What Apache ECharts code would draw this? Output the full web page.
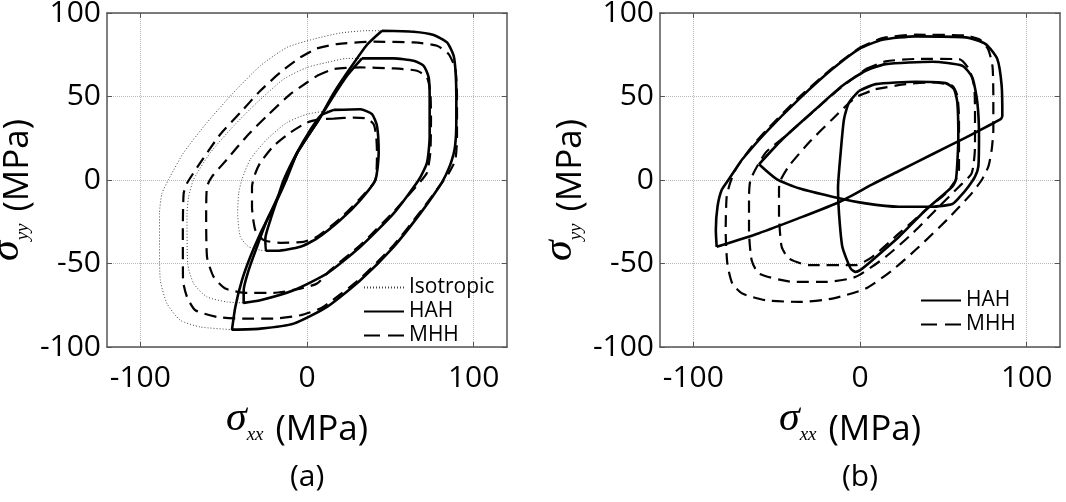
<!DOCTYPE html>
<html lang="en">
<head>
<meta charset="UTF-8">
<title>Yield surfaces: Isotropic / HAH / MHH</title>
<script src="https://cdn.jsdelivr.net/npm/echarts@6/dist/echarts.min.js"></script>
<style>html,body{margin:0;padding:0;background:#fff}</style>
</head>
<body>
<div id="main" style="width:1066px;height:502px"></div>
<script>
// tick values shown on the axes
const xTicks = [-100, 0, 100];
const yTicks = [-100, -50, 0, 50, 100];

// ---- panel (a) : [sigma_xx, sigma_yy] in MPa ----
// isotropic: only the visible (left) arc, the rest lies under the HAH line
const isoA1 = [[45,89.4],[36,89.4],[20,88],[4,84.4],[-12,79.4],[-28,68.4],[-44,52.4],[-60,34.4],[-74,16.4],[-83,0.4],[-87,-8],[-88.5,-20],[-88.5,-40],[-88,-60],[-84,-74],[-76,-84],[-64,-88],[-45,-89.6]];
const isoA2 = [[33,72.8],[24,72.8],[12,70.4],[0,67.4],[-14,60.4],[-30,46.4],[-44,32.4],[-58,16.4],[-68,0.4],[-71,-10],[-72,-20],[-71.6,-50],[-68,-62],[-60,-70],[-48,-73],[-38,-73.6]];
const isoA3 = [[16,42],[12,41.4],[0,39.4],[-12,34.4],[-24,24.4],[-34,12.4],[-39,0.4],[-41,-8],[-41.6,-20],[-40,-34],[-35,-40],[-28,-42],[-24.5,-42.4]];

const hahA1 = [[45,89.4],[64,88.8],[76,86.8],[84,82.4],[88,74.4],[89.2,64],[89.6,50],[89.6,36],[88.8,20],[86.4,10.4],[83,2.4],[79.6,-3.6],[68,-20],[52,-40],[32,-60],[12,-76],[-8,-86],[-28,-89],[-45,-89.6],[-43,-76],[-39,-60],[-34,-46],[-28,-32],[-22,-20],[-17,-9],[-13,0],[-6,16],[7,36],[16,52],[26,67],[36,81],[45,89.4]];
const hahA2 = [[33,72.8],[52,72.8],[64,71.4],[70,68.4],[73,61.4],[73.6,50],[73.6,26],[72,10.4],[67,0],[52,-20],[32,-40],[12,-56],[-8,-66],[-28,-72],[-38,-73.6],[-38,-66],[-35,-54],[-30,-40],[-24,-24],[-17,-10],[-12.5,0],[-6,16],[7,36],[16,50.4],[24,62.4],[33,72.8]];
const hahA3 = [[16,42],[32,42.4],[39,39.4],[42,32.4],[43,16.4],[41,0],[32,-12],[20,-24],[6,-35],[-4,-40],[-18,-42.4],[-24.5,-42.4],[-25,-35],[-22,-24],[-18,-12],[-14,0],[-6,16.4],[2,30],[8,38.4],[16,42]];

const mhhA1 = [[6,78.8],[18,81.4],[40,82.8],[64,82.4],[78,80.4],[85,75.4],[89,66.4],[90,50],[90,26],[89,12],[85,4],[80,-3],[68,-19],[52,-39],[32,-59],[14,-73],[8,-77],[-4,-81],[-20,-83],[-38,-83],[-54,-82],[-67,-78],[-72,-70],[-74.4,-60],[-74.5,-30],[-74,-8],[-72,-2],[-64,10.4],[-52,27.4],[-40,40.4],[-28,53.4],[-16,64.4],[-4,73.4],[6,78.8]];
const mhhA2 = [[6,62.4],[16,66.4],[32,67.4],[52,66.8],[66,65.4],[72,61.4],[74,52.4],[74.4,36.4],[74,16.4],[72,4.4],[68,-1],[52,-19],[32,-39],[14,-54],[6,-62],[-4,-65],[-20,-67.6],[-36,-67.6],[-49,-65],[-56,-58],[-60,-46],[-60.5,-20],[-60,-4],[-57,2],[-48,12.4],[-36,26.4],[-24,38.4],[-10,51.4],[0,58.4],[6,62.4]];
const mhhA3 = [[16,36.8],[28,37.4],[36,36.8],[40,33.4],[41.5,26.4],[42,16],[41.5,2],[40,-2],[32,-11],[20,-23],[6,-34],[-2,-37],[-16,-37.6],[-26,-36],[-31,-30],[-33,-16],[-33,-4],[-31,4],[-28,10.4],[-20,20.4],[-10,28.4],[0,34.4],[8,36.4],[16,36.8]];

// ---- panel (b) ----
const hahB1 = [[-86,-40],[-86.5,-30],[-85.5,-16],[-83,-6],[-79,0],[-75,6],[-70.6,12.4],[-56.6,28.4],[-36.6,48.4],[-16.6,66.4],[-0.6,78.4],[13.4,84],[33.4,86],[63.4,85.4],[75.4,81.4],[82.4,72.4],[85,56.4],[85.4,38.4],[84.4,36.4],[63.4,25.4],[43.4,15.4],[23.4,5.4],[7.4,-2.6],[-12,-13],[-37,-23],[-61,-32],[-86,-40]];
const hahB2 = [[-60.6,9.4],[-46.6,24.4],[-26.6,42.4],[-10.6,56.4],[3.4,65.4],[15.4,69.4],[43.4,70.8],[61.4,68.4],[67.4,61.4],[70.4,46.4],[71.4,26.4],[71,8],[69,2],[65,-4],[60,-10],[55.4,-14.4],[43.4,-16],[23.4,-16],[3.4,-14],[-16.6,-10],[-36.6,-5],[-50,0.5],[-60.6,9.4]];
const hahB3 = [[-0.6,53.4],[9.4,57.4],[33.4,58.8],[51.4,58],[56.4,54.4],[58.4,46.4],[59,26.4],[58.4,10.4],[57.5,0],[55.4,-4],[39.4,-18],[23.4,-34],[7.4,-48],[0,-54],[-2.6,-55],[-5.6,-53],[-10.6,-40],[-12.6,-20],[-13.2,-5],[-11.6,16.4],[-9.6,36.4],[-6.6,46.4],[-0.6,53.4]];

const mhhB1 = [[-0.6,79],[13.4,85],[33.4,87],[63.4,86.5],[72,84],[77,78],[79.5,68],[80,50],[80,30],[79,18],[77,8],[73,0],[67,-8],[53,-23],[35.4,-40],[19.4,-54],[3.4,-65],[-16.6,-71],[-36.6,-73],[-56.6,-72],[-70.6,-68],[-76.6,-62],[-79.6,-50],[-80.6,-30],[-80,-10],[-78,-2],[-74.6,6.4],[-64.6,20.4],[-56,30],[-36.6,49.5],[-16.6,67],[-0.6,79]];
const mhhB2 = [[3.4,66.4],[15.4,71],[35,72.5],[59.4,72.4],[65.4,66.4],[68.5,56],[69,40],[69,20],[67,4],[59.4,-4],[47.4,-16],[31.4,-32],[15.4,-46],[-2.6,-58],[-20,-61],[-40,-61],[-60.6,-56],[-65,-48],[-66.6,-30],[-66.6,-10],[-65.6,0.4],[-56.6,16.4],[-44.6,26.4],[-28.6,40.4],[-12.6,54.4],[3.4,66.4]];
const mhhB3 = [[9.4,54.4],[27.4,57.4],[43.4,58.4],[55.4,56.4],[58.4,50.4],[59.4,36.4],[59.4,6.4],[57.4,0],[51.4,-8],[39.4,-18],[23.4,-32],[7.4,-46],[-2.6,-51],[-30.6,-51],[-42.6,-47],[-47,-40],[-48.6,-20],[-48.6,-5],[-47.6,0],[-42.6,8.4],[-30.6,22.4],[-16.6,36.4],[-2.6,49.4],[9.4,54.4]];

const font = "'Open Sans', sans-serif";
const serif = "'Liberation Serif', 'Times New Roman', serif";

let myChart = echarts.init(document.getElementById('main'));

// sigma raised a little, subscript on the (MPa) baseline, like the MATLAB label
const richName = {
  s:   { fontFamily: serif, fontStyle: 'italic', fontSize: 42, color: '#000', verticalAlign: 'bottom', padding: [0, 0, 8, 0] },
  sub: { fontFamily: serif, fontStyle: 'italic', fontSize: 19, color: '#000', verticalAlign: 'bottom', padding: [0, 0, 3, 0] },
  sp:  { fontFamily: font, fontSize: 46, color: '#000', verticalAlign: 'bottom' },
  t:   { fontFamily: font, fontSize: 35, color: '#000', verticalAlign: 'bottom', padding: [0, 20, 0, 0] }
};

const boxLine = { show: true, onZero: false, lineStyle: { color: '#555', width: 1.5 } };
const grid = { type: 'dotted', color: '#b8b8b8', width: 1 };
const tick = { inside: true, length: 5, lineStyle: { color: '#555' } };

function xAxes(g) {
  const base = { type: 'value', gridIndex: g, min: -120, max: 120, axisLine: boxLine };
  return [
    Object.assign({}, base, {
      position: 'bottom',
      name: '{s|σ}{sub|xx}{sp| }{t|(MPa)}',
      nameLocation: 'middle', nameGap: 43,
      nameTextStyle: { rich: richName },
      axisTick: Object.assign({ customValues: xTicks }, tick),
      axisLabel: { customValues: xTicks, fontSize: 30, fontFamily: font, color: '#000', margin: 16 },
      splitLine: { show: true, lineStyle: grid }
    }),
    Object.assign({}, base, {
      position: 'top',
      axisTick: Object.assign({ customValues: xTicks }, tick),
      axisLabel: { show: false },
      splitLine: { show: false }
    })
  ];
}

function yAxes(g) {
  const base = { type: 'value', gridIndex: g, min: yTicks[0], max: yTicks[yTicks.length - 1], interval: 50, axisLine: boxLine };
  return [
    Object.assign({}, base, {
      position: 'left',
      name: '{s|σ}{sub|yy}{sp| }{t|(MPa)}',
      nameLocation: 'middle', nameGap: 51, nameRotate: 90,
      nameTextStyle: { rich: richName },
      axisTick: tick,
      axisLabel: { fontSize: 30, fontFamily: font, color: '#000', margin: 6 },
      splitLine: { show: true, lineStyle: grid }
    }),
    Object.assign({}, base, {
      position: 'right',
      axisTick: tick,
      axisLabel: { show: false },
      splitLine: { show: false }
    })
  ];
}

const isoStyle = { color: '#444', width: 1, type: [1, 2] };
const hahStyle = { color: '#000', width: 2.6, type: 'solid' };
const mhhStyle = { color: '#000', width: 2.2, type: [12, 7] };

function curve(name, data, g, style, z) {
  return {
    name: name, type: 'line', data: data,
    xAxisIndex: g * 2, yAxisIndex: g * 2,
    symbol: 'none', showSymbol: false, smooth: 0.2,
    lineStyle: style, itemStyle: { color: style.color },
    silent: true, z: z
  };
}

const series = [
  curve('Isotropic', isoA1, 0, isoStyle, 2),
  curve('Isotropic', isoA2, 0, isoStyle, 2),
  curve('Isotropic', isoA3, 0, isoStyle, 2),
  curve('MHH', mhhA1, 0, mhhStyle, 3),
  curve('MHH', mhhA2, 0, mhhStyle, 3),
  curve('MHH', mhhA3, 0, mhhStyle, 3),
  curve('HAH', hahA1, 0, hahStyle, 4),
  curve('HAH', hahA2, 0, hahStyle, 4),
  curve('HAH', hahA3, 0, hahStyle, 4),
  curve('MHH', mhhB1, 1, mhhStyle, 3),
  curve('MHH', mhhB2, 1, mhhStyle, 3),
  curve('MHH', mhhB3, 1, mhhStyle, 3),
  curve('HAH', hahB1, 1, hahStyle, 4),
  curve('HAH', hahB2, 1, hahStyle, 4),
  curve('HAH', hahB3, 1, hahStyle, 4)
];

const legendText = { fontSize: 21, fontFamily: font, color: '#000', lineHeight: 21 };
// the line sample only: hide the marker that line series put in the middle
const legendBase = { orient: 'vertical', padding: 0, itemWidth: 40, itemHeight: 12, itemGap: 3,
  textStyle: legendText, selectedMode: false, itemStyle: { opacity: 0 } };
const mhhKey = { name: 'MHH', lineStyle: { type: [16, 8] } };

let options = {
  animation: false,
  backgroundColor: '#fff',
  grid: [
    { left: 107, top: 13, width: 400, height: 334, containLabel: false, outerBoundsMode: 'none' },
    { left: 660, top: 13, width: 400, height: 334, containLabel: false, outerBoundsMode: 'none' }
  ],
  xAxis: xAxes(0).concat(xAxes(1)),
  yAxis: yAxes(0).concat(yAxes(1)),
  legend: [
    Object.assign({ data: ['Isotropic', 'HAH', mhhKey], left: 363, top: 277 }, legendBase),
    Object.assign({ data: ['HAH', mhhKey], left: 920, top: 290 }, legendBase)
  ],
  graphic: [
    { type: 'text', left: 290, top: 462, style: { text: '(a)', font: "30px 'Open Sans'", fill: '#000' } },
    { type: 'text', left: 842, top: 462, style: { text: '(b)', font: "30px 'Open Sans'", fill: '#000' } }
  ],
  series: series
};

myChart.setOption(options);
</script>
</body>
</html>
